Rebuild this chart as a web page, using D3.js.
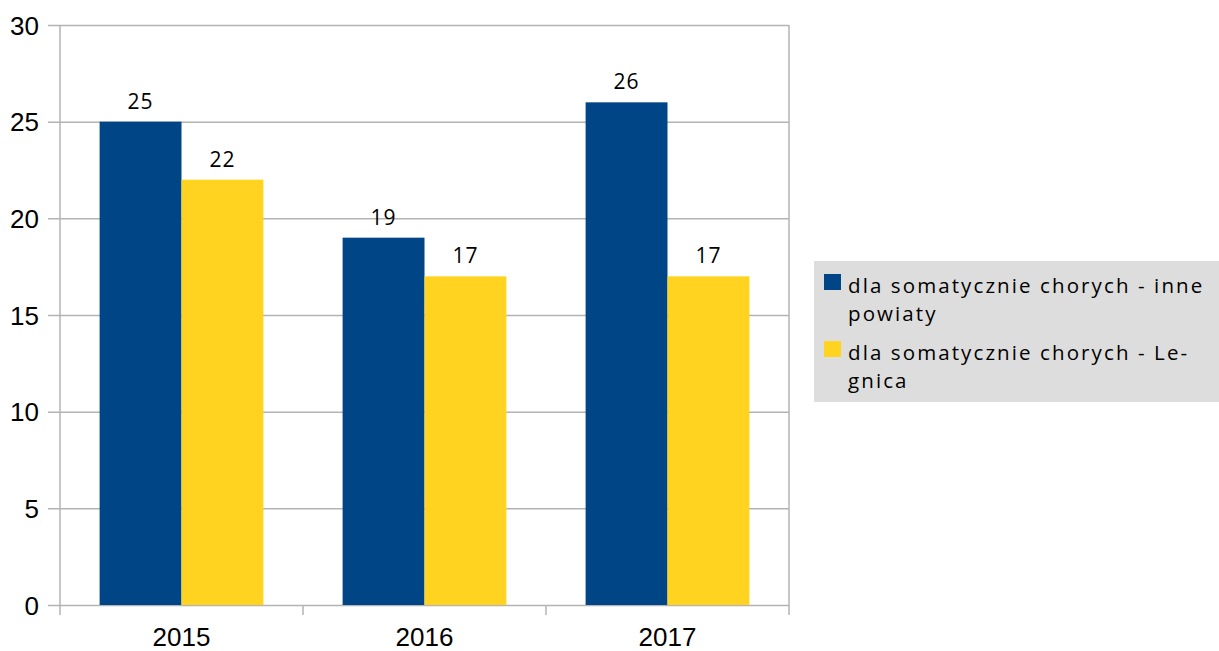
<!DOCTYPE html>
<html>
<head>
<meta charset="utf-8">
<script src="https://cdn.jsdelivr.net/npm/d3@7"></script>
<style>
  body { margin: 0; background: #fff; }
</style>
</head>
<body>
<div id="chart"></div>
<script>
const years = ['2015', '2016', '2017'];
const inne = [25, 19, 26];
const legnica = [22, 17, 17];
const legendLines = [['dla somatycznie chorych - inne', 'powiaty'], ['dla somatycznie chorych - Le-', 'gnica']];
const yTicks = [0, 5, 10, 15, 20, 25, 30];
const colors = ['#004586', '#ffd320'];

const margin = { top: 25, right: 430, bottom: 46, left: 60 };
const W = 1219, H = 651;
const width = W - margin.left - margin.right;
const height = H - margin.top - margin.bottom;

const svg = d3.select('#chart')
  .append('svg')
  .attr('width', W)
  .attr('height', H)
  .append('g')
  .attr('transform', `translate(${margin.left}, ${margin.top})`);

const x = d3.scaleBand()
  .domain(years)
  .range([0, width]);

const barW = x.bandwidth() * 0.337;
const x1 = d3.scaleBand()
  .domain([0, 1])
  .range([x.bandwidth() / 2 - barW, x.bandwidth() / 2 + barW]);

const y = d3.scaleLinear()
  .domain([0, 30])
  .range([height, 0]);

// horizontal grid
svg.append('g')
  .attr('class', 'grid')
  .call(d3.axisLeft(y).tickValues(yTicks).tickFormat('').tickSize(-width - 12).tickSizeOuter(0))
  .attr('transform', `translate(-12, 0)`)
  .call(g => g.select('.domain').remove())
  .call(g => g.selectAll('line').attr('stroke', '#b3b3b3').attr('stroke-width', 1.5));

// y labels
svg.append('g')
  .selectAll('text')
  .data(yTicks)
  .join('text')
  .attr('x', -21)
  .attr('y', d => y(d))
  .attr('dy', '0.37em')
  .attr('text-anchor', 'end')
  .attr('font-family', 'Liberation Sans, Arial, sans-serif')
  .attr('font-size', 26)
  .attr('fill', '#000')
  .text(d => d);

// frame left/right
svg.append('line').attr('x1', 0).attr('x2', 0).attr('y1', 0).attr('y2', height + 10)
  .attr('stroke', '#b3b3b3').attr('stroke-width', 1.5);
svg.append('line').attr('x1', width).attr('x2', width).attr('y1', 0).attr('y2', height + 10)
  .attr('stroke', '#b3b3b3').attr('stroke-width', 1.5);

// category separators
svg.append('g')
  .selectAll('line')
  .data(years.slice(1))
  .join('line')
  .attr('x1', d => x(d)).attr('x2', d => x(d))
  .attr('y1', height).attr('y2', height + 10)
  .attr('stroke', '#b3b3b3').attr('stroke-width', 1.5);

// x labels
svg.append('g')
  .selectAll('text')
  .data(years)
  .join('text')
  .attr('x', d => x(d) + x.bandwidth() / 2)
  .attr('y', height + 41)
  .attr('text-anchor', 'middle')
  .attr('font-family', 'Liberation Sans, Arial, sans-serif')
  .attr('font-size', 26)
  .attr('fill', '#000')
  .text(d => d);

const rows = years.map((yr, i) => ({ year: yr, vals: [inne[i], legnica[i]] }));

const groups = svg.selectAll('.grp')
  .data(rows)
  .join('g')
  .attr('transform', d => `translate(${x(d.year)}, 0)`);

groups.selectAll('rect')
  .data(d => d.vals.map((v, k) => ({ v, k })))
  .join('rect')
  .attr('x', d => x1(d.k))
  .attr('y', d => y(d.v))
  .attr('width', x1.bandwidth())
  .attr('height', d => height - y(d.v))
  .attr('fill', d => colors[d.k]);

groups.selectAll('text')
  .data(d => d.vals.map((v, k) => ({ v, k })))
  .join('text')
  .attr('x', d => x1(d.k) + x1.bandwidth() / 2)
  .attr('y', d => y(d.v) - 13)
  .attr('text-anchor', 'middle')
  .attr('font-family', 'Open Sans, sans-serif')
  .attr('font-size', 21)
  .attr('letter-spacing', 1)
  .attr('fill', '#000')
  .text(d => d.v);

// legend
const legend = d3.select('svg').append('g')
  .attr('transform', 'translate(814, 261)');

legend.append('rect')
  .attr('width', 405)
  .attr('height', 141)
  .attr('fill', '#dddddd');

legendLines.forEach((lines, k) => {
  const g = legend.append('g').attr('transform', `translate(0, ${k * 67})`);
  g.append('rect')
    .attr('x', 10).attr('y', 13)
    .attr('width', 17).attr('height', 16)
    .attr('fill', colors[k]);
  g.append('text')
    .attr('x', 34)
    .attr('y', 32)
    .attr('font-family', 'Open Sans, sans-serif')
    .attr('font-size', 20.5)
    .attr('letter-spacing', 2.1)
    .attr('fill', '#000')
    .selectAll('tspan')
    .data(lines)
    .join('tspan')
    .attr('x', 34)
    .attr('dy', (d, i) => i === 0 ? 0 : 28)
    .text(d => d);
});
</script>
</body>
</html>
